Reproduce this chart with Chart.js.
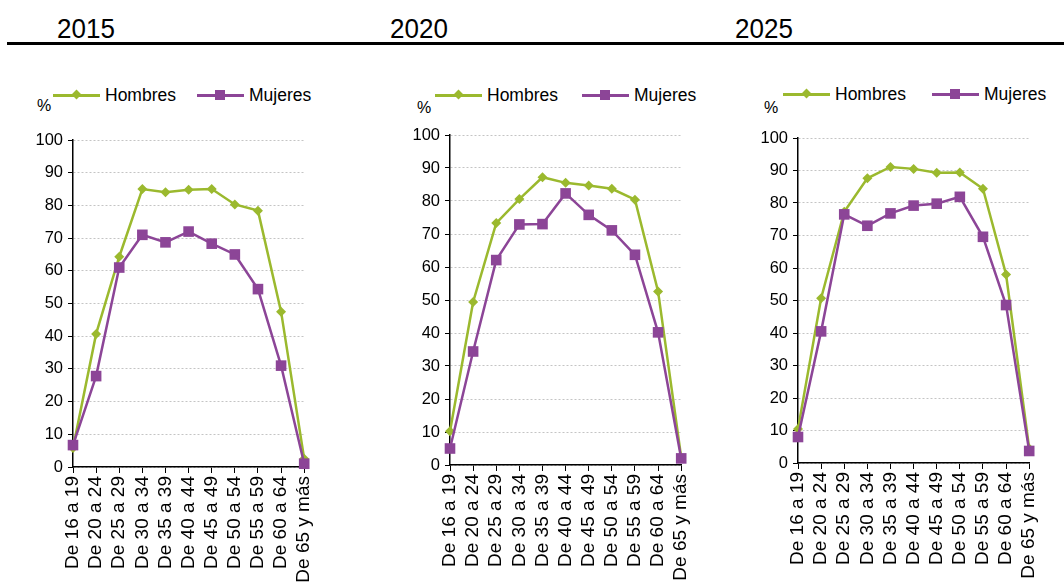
<!DOCTYPE html>
<html>
<head>
<meta charset="utf-8">
<script src="https://cdn.jsdelivr.net/npm/chart.js@4.4.0/dist/chart.umd.min.js"></script>
<style>
  body { margin: 0; background: #fff; font-family: "Liberation Sans", Arial, sans-serif; }
  #page { position: relative; width: 1064px; height: 582px; overflow: hidden; }
  .year { position: absolute; top: 12px; font-size: 26px; line-height: 30px; color: #000; font-weight: normal; transform: scaleY(1.08); transform-origin: left top; }
  #rule { position: absolute; left: 7px; top: 42px; width: 1057px; height: 3px; background: #000; }
  .pct { position: absolute; font-size: 16px; color: #000; }
  .legend { position: absolute; font-size: 17.5px; color: #000; height: 20px; }
  .item { position: absolute; top: 0; white-space: nowrap; }
  .ln { position: absolute; top: 9px; width: 47px; height: 2.5px; }
  .mk { position: absolute; }
  .lbl { position: absolute; top: 0; line-height: 20px; }
  canvas { position: absolute; top: 120px; }
</style>
</head>
<body>
<div id="page">
  <div class="year" style="left:57px">2015</div>
  <div class="year" style="left:390px">2020</div>
  <div class="year" style="left:735px">2025</div>
  <div id="rule"></div>

  <div class="pct" style="left:37px; top:97px">%</div>
  <div class="pct" style="left:417px; top:99px">%</div>
  <div class="pct" style="left:764px; top:99px">%</div>

  <div id="legend1" class="legend" style="left:53px; top:85px"></div>
  <div id="legend2" class="legend" style="left:435px; top:85px"></div>
  <div id="legend3" class="legend" style="left:783px; top:84px"></div>

  <canvas id="chart1" width="330" height="462" style="left:0px"></canvas>
  <canvas id="chart2" width="330" height="462" style="left:377px"></canvas>
  <canvas id="chart3" width="330" height="462" style="left:725px"></canvas>
</div>

<script>
// Age groups on the x axis
const ageGroups = ['De 16 a 19', 'De 20 a 24', 'De 25 a 29', 'De 30 a 34', 'De 35 a 39',
  'De 40 a 44', 'De 45 a 49', 'De 50 a 54', 'De 55 a 59', 'De 60 a 64', 'De 65 y más'];

// Activity rates (%)
const hombres2015 = [5.8, 40.7, 64.3, 85.0, 84.0, 84.8, 85.0, 80.3, 78.4, 47.5, 2.5];
const mujeres2015 = [6.7, 27.8, 61.0, 71.0, 68.7, 72.0, 68.3, 65.0, 54.4, 31.0, 1.0];

const hombres2020 = [10.2, 49.4, 73.3, 80.6, 87.2, 85.5, 84.7, 83.7, 80.4, 52.6, 2.3];
const mujeres2020 = [5.0, 34.4, 62.1, 72.9, 73.0, 82.3, 75.8, 71.1, 63.7, 40.2, 2.0];

const hombres2025 = [10.5, 50.7, 77.3, 87.6, 91.1, 90.5, 89.3, 89.4, 84.4, 58.0, 4.5];
const mujeres2025 = [8.0, 40.5, 76.5, 73.0, 76.8, 79.2, 79.8, 81.9, 69.6, 48.6, 3.7];

const yTicks = [0, 10, 20, 30, 40, 50, 60, 70, 80, 90, 100];

const seriesNames = ['Hombres', 'Mujeres'];
const green = '#9bb92e';
const purple = '#8c4597';

// Build the legend (line with marker in the middle, then the label)
function buildLegend(id, mujeresOffset) {
  const el = document.getElementById(id);
  const items = [
    { name: seriesNames[0], color: green, diamond: true, left: 0 },
    { name: seriesNames[1], color: purple, diamond: false, left: mujeresOffset }
  ];
  items.forEach(function (it) {
    const div = document.createElement('div');
    div.className = 'item';
    div.style.left = it.left + 'px';
    const ln = document.createElement('div');
    ln.className = 'ln';
    ln.style.left = '0px';
    ln.style.background = it.color;
    const mk = document.createElement('div');
    mk.className = 'mk';
    mk.style.background = it.color;
    if (it.diamond) {
      mk.style.width = '7px'; mk.style.height = '7px';
      mk.style.left = '20px'; mk.style.top = '6px';
      mk.style.transform = 'rotate(45deg)';
    } else {
      mk.style.width = '10px'; mk.style.height = '10px';
      mk.style.left = '18px'; mk.style.top = '5px';
    }
    const lbl = document.createElement('div');
    lbl.className = 'lbl';
    lbl.style.left = '52px';
    lbl.textContent = it.name;
    div.appendChild(ln);
    div.appendChild(mk);
    div.appendChild(lbl);
    el.appendChild(div);
  });
}

function createLineChart(chartId, hombres, mujeres, padTop, padRight, xAxisHeight) {
  const ctx = document.getElementById(chartId).getContext('2d');
  return new Chart(ctx, {
    type: 'line',
    data: {
      labels: ageGroups,
      datasets: [
        {
          label: seriesNames[0],
          data: hombres,
          borderColor: green,
          backgroundColor: green,
          borderWidth: 2.5,
          pointStyle: 'rectRot',
          pointRadius: 5,
          pointBorderWidth: 0,
          tension: 0,
          clip: false,
          order: 2,
        },
        {
          label: seriesNames[1],
          data: mujeres,
          borderColor: purple,
          backgroundColor: purple,
          borderWidth: 2.5,
          pointStyle: 'rect',
          pointRadius: 7.5,
          pointBorderWidth: 0,
          tension: 0,
          clip: false,
          order: 1,
        },
      ],
    },
    options: {
      responsive: false,
      animation: false,
      layout: { padding: { top: padTop, right: padRight, left: 0, bottom: 0 } },
      plugins: {
        legend: { display: false },
        tooltip: { enabled: false },
      },
      scales: {
        x: {
          offset: false,
          grid: { drawOnChartArea: false, tickColor: '#000', tickLength: 6 },
          border: { color: '#000', width: 1.5 },
          ticks: {
            color: '#000',
            font: { family: 'Liberation Sans', size: 19 },
            autoSkip: false,
            maxRotation: 90,
            minRotation: 90,
            padding: 3,
          },
          afterFit: function (scale) { scale.height = xAxisHeight; },
        },
        y: {
          min: 0,
          max: 100,
          afterBuildTicks: function (scale) {
            scale.ticks = yTicks.map(function (v) { return { value: v }; });
          },
          grid: { color: '#c4c4c4', lineWidth: 1, tickColor: '#000', tickLength: 5 },
          border: { color: '#000', width: 1.5, dash: [2, 2] },
          ticks: {
            color: '#000',
            font: { family: 'Liberation Sans', size: 16.5 },
            padding: 5,
          },
          afterFit: function (scale) { scale.width = 73; },
        },
      },
    },
  });
}

buildLegend('legend1', 144);
buildLegend('legend2', 147);
buildLegend('legend3', 149);

let chart1 = createLineChart('chart1', hombres2015, mujeres2015, 20, 22, 115);
let chart2 = createLineChart('chart2', hombres2020, mujeres2020, 15, 8, 117);
let chart3 = createLineChart('chart3', hombres2025, mujeres2025, 18, 15, 119);
</script>
</body>
</html>
